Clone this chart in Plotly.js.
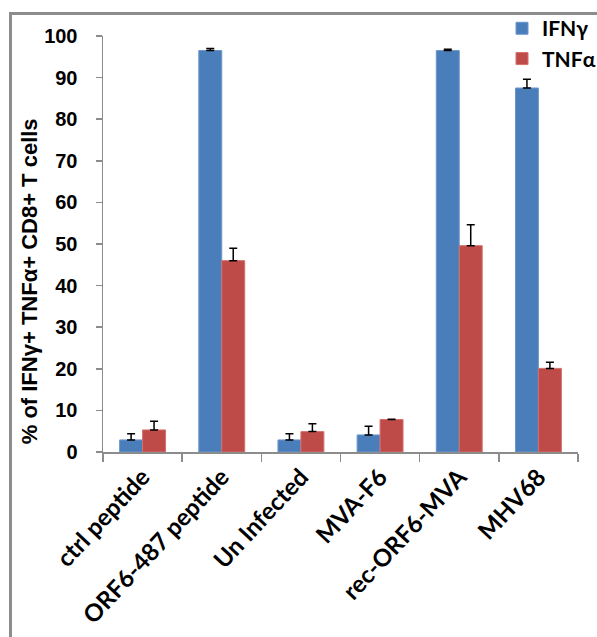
<!DOCTYPE html>
<html>
<head>
<meta charset="utf-8">
<script src="https://cdn.plot.ly/plotly-3.0.1.min.js"></script>
<style>
html, body { margin: 0; padding: 0; background: #fff; }
#wrap { position: relative; width: 597px; height: 637px; overflow: hidden; }
#frame { position: absolute; left: 9px; top: 12px; width: 600px; height: 640px; border-left: 3px solid #8c8c8c; border-top: 3px solid #8c8c8c; box-sizing: border-box; }
#chart { position: absolute; left: 0; top: 0; width: 597px; height: 637px; }
</style>
</head>
<body>
<div id="wrap">
<div id="frame"></div>
<div id="chart"></div>
</div>
<script>
const categories = ["ctrl peptide", "ORF6-487 peptide", "Un Infected", "MVA-F6", "rec-ORF6-MVA", "MHV68"];
const ifngValues = [2.9, 96.5, 2.9, 4.1, 96.5, 87.5];
const ifngErrors = [1.5, 0.5, 1.5, 2.1, 0.3, 2.1];
const tnfaValues = [5.3, 46.0, 4.9, 7.8, 49.6, 20.1];
const tnfaErrors = [2.1, 3.0, 1.9, 0.1, 5.0, 1.5];
const zeros = [0, 0, 0, 0, 0, 0];

const errStyle = (arr) => ({type: 'data', symmetric: false, array: arr, arrayminus: zeros, color: '#000', thickness: 1.5, width: 4});

const traces = [
  {type: 'bar', name: 'IFNγ', x: categories, y: ifngValues, error_y: errStyle(ifngErrors),
   marker: {color: '#4A7EBB', line: {color: '#6C97CC', width: 1}}},
  {type: 'bar', name: 'TNFα', x: categories, y: tnfaValues, error_y: errStyle(tnfaErrors),
   marker: {color: '#BE4B48', line: {color: '#D4706D', width: 1}}}
];

const calibri = 'Lato, "Open Sans", sans-serif';
const arial = '"Liberation Sans", Arial, sans-serif';

const layout = {
  width: 597, height: 637,
  margin: {l: 103, r: 19, t: 36, b: 185, autoexpand: false},
  paper_bgcolor: 'rgba(0,0,0,0)', plot_bgcolor: 'rgba(0,0,0,0)',
  barmode: 'group', bargap: 0.42, bargroupgap: 0,
  font: {family: calibri, size: 18, color: '#000', weight: 'bold'},
  showlegend: true,
  legend: {x: 0.84, y: 1.067, xanchor: 'left', yanchor: 'top', bgcolor: 'rgba(0,0,0,0)',
           font: {family: calibri, size: 21, color: '#000', weight: 'bold'}, itemwidth: 30},
  xaxis: {type: 'category', tickangle: -47, showline: true, linecolor: '#8c8c8c', linewidth: 1.5,
          ticks: 'outside', tickson: 'boundaries', ticklen: 8, tickcolor: '#8c8c8c', tickwidth: 1.5,
          showgrid: false, zeroline: false, automargin: false,
          tickfont: {family: calibri, size: 24, color: '#000', weight: 'bold'}},
  yaxis: {range: [0, 100], dtick: 10, showline: true, linecolor: '#8c8c8c', linewidth: 1.5,
          ticks: 'outside', ticklen: 6, tickcolor: '#8c8c8c', tickwidth: 1.5, showgrid: false, zeroline: false,
          ticklabelstandoff: 14, automargin: false,
          tickfont: {family: arial, size: 20, color: '#000', weight: 'bold'}},
  annotations: [{
    text: '% of IFNγ+ TNFα+ CD8+ T cells', textangle: -90, showarrow: false,
    xref: 'paper', yref: 'paper', x: -0.154, y: 0.41, xanchor: 'center', yanchor: 'middle',
    font: {family: arial, size: 22, color: '#000', weight: 'bold'}
  }]
};

Plotly.newPlot('chart', traces, layout, {displayModeBar: false, staticPlot: true});
</script>
</body>
</html>
